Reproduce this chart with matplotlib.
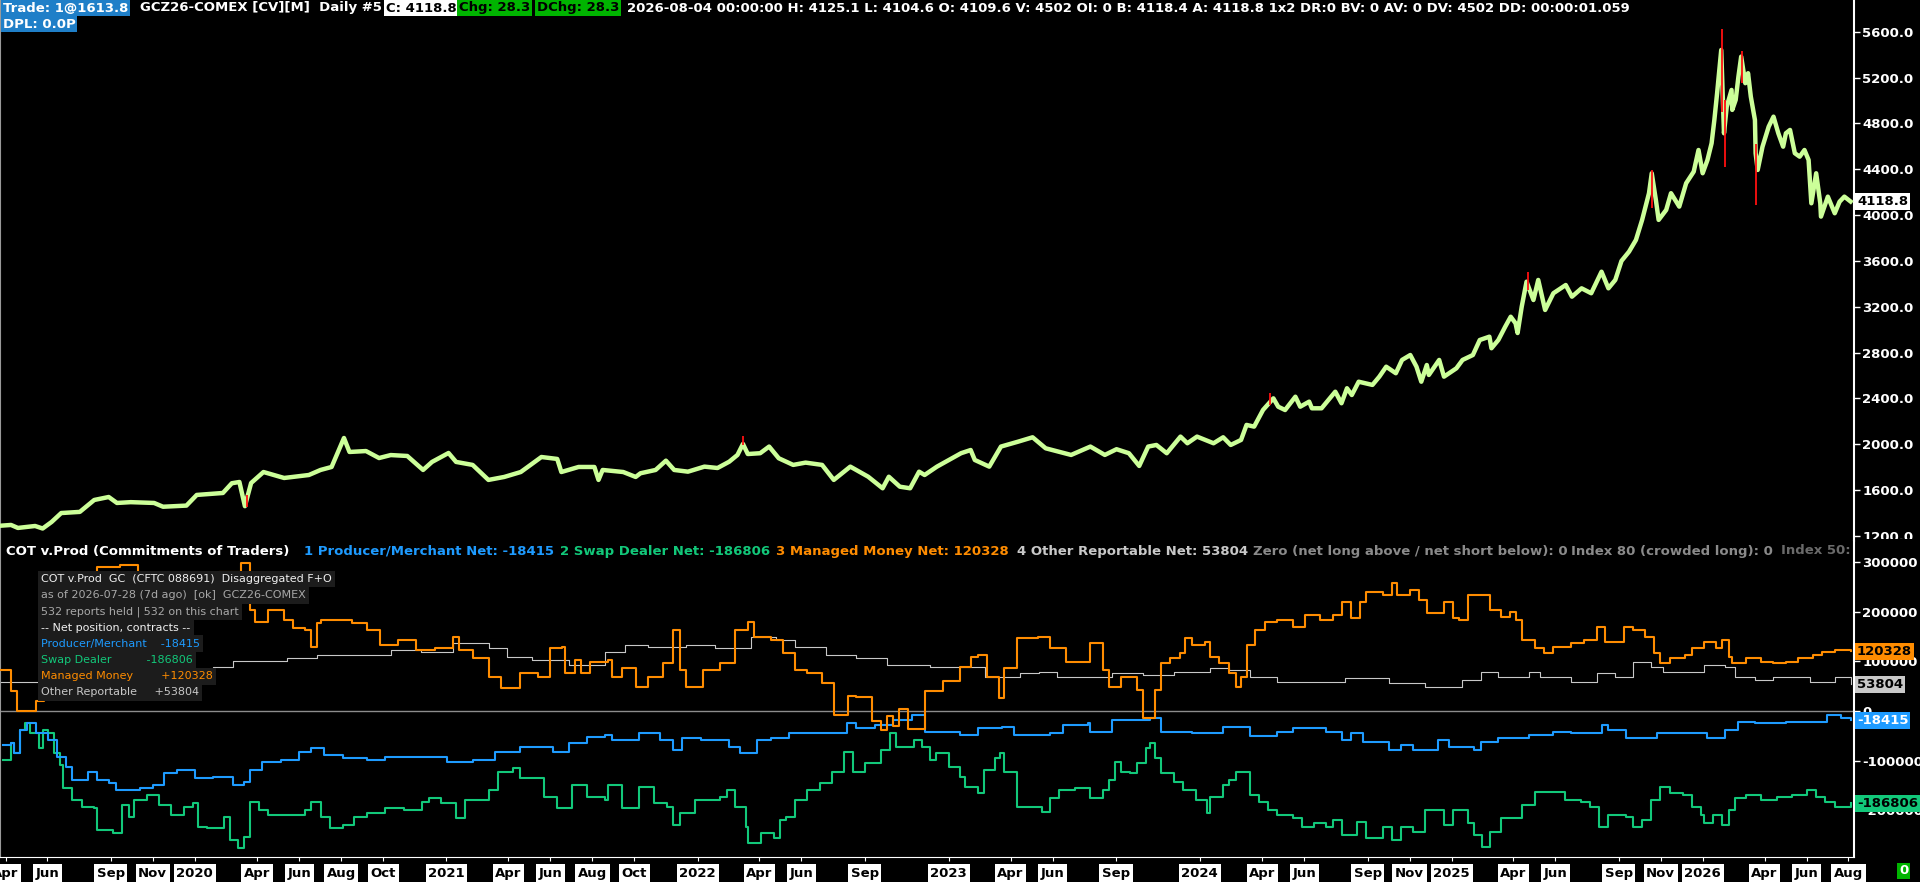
import matplotlib
matplotlib.use("Agg")
import matplotlib.pyplot as plt
import matplotlib.ticker as mticker
import pandas as pd

plt.rcParams['font.family'] = ['DejaVu Sans']
plt.rcParams['font.weight'] = 'bold'

W, H = 1920, 882

# ---- price (GCZ26 daily closes) ----
price_dates = [
    '2019-03-26', '2019-04-09', '2019-04-19', '2019-05-14', '2019-05-25', '2019-06-07', '2019-06-21', '2019-07-18',
    '2019-08-08', '2019-08-29', '2019-09-10', '2019-09-30', '2019-11-03', '2019-11-16', '2019-12-20',
    '2020-01-04', '2020-02-11', '2020-02-24', '2020-03-06', '2020-03-14', '2020-03-23', '2020-04-10', '2020-05-10',
    '2020-06-15', '2020-07-02', '2020-07-18', '2020-08-05', '2020-08-13', '2020-09-06', '2020-09-25', '2020-10-12',
    '2020-11-05', '2020-11-28', '2020-12-11',
    '2021-01-04', '2021-01-15', '2021-02-08', '2021-03-03', '2021-03-26', '2021-04-19', '2021-05-19', '2021-06-11',
    '2021-06-17', '2021-07-12', '2021-08-04', '2021-08-10', '2021-08-16', '2021-09-15', '2021-10-03', '2021-10-10',
    '2021-11-01', '2021-11-16', '2021-11-28', '2021-12-18',
    '2022-01-11', '2022-01-30', '2022-02-16', '2022-02-28', '2022-03-08', '2022-03-15', '2022-04-02', '2022-04-15',
    '2022-04-29', '2022-05-20', '2022-06-07', '2022-07-01', '2022-07-18', '2022-08-11', '2022-09-06', '2022-09-27',
    '2022-10-06', '2022-10-22', '2022-11-06', '2022-11-19', '2022-11-27', '2022-12-15',
    '2023-01-19', '2023-02-02', '2023-02-08', '2023-03-01', '2023-03-18', '2023-04-12', '2023-05-03', '2023-05-22',
    '2023-06-28', '2023-07-26', '2023-08-16', '2023-09-02', '2023-09-20', '2023-10-05', '2023-10-18', '2023-10-30',
    '2023-11-14', '2023-12-04', '2023-12-14', '2023-12-28',
    '2024-01-21', '2024-02-04', '2024-02-15', '2024-03-01', '2024-03-09', '2024-03-20', '2024-04-02', '2024-04-17',
    '2024-04-24', '2024-05-04', '2024-05-19', '2024-05-26', '2024-06-08', '2024-06-12', '2024-06-26', '2024-07-16',
    '2024-07-25', '2024-08-02', '2024-08-09', '2024-08-19', '2024-09-08', '2024-09-18', '2024-09-28', '2024-10-12',
    '2024-10-21', '2024-11-02', '2024-11-11', '2024-11-18', '2024-11-26', '2024-11-29', '2024-12-14', '2024-12-21',
    '2025-01-08', '2025-01-17', '2025-02-01', '2025-02-11', '2025-02-25', '2025-02-28', '2025-03-10', '2025-03-20',
    '2025-03-28', '2025-04-04', '2025-04-07', '2025-04-13', '2025-04-20', '2025-04-30', '2025-05-07', '2025-05-17',
    '2025-05-29', '2025-06-16', '2025-06-25', '2025-07-09', '2025-07-23', '2025-08-07', '2025-08-17', '2025-08-27',
    '2025-09-05', '2025-09-16', '2025-09-26', '2025-10-05', '2025-10-15', '2025-10-19', '2025-10-25', '2025-10-29',
    '2025-11-09', '2025-11-16', '2025-11-28', '2025-12-08', '2025-12-19', '2025-12-26',
    '2026-01-01', '2026-01-08', '2026-01-14', '2026-01-18', '2026-01-22', '2026-01-28', '2026-02-01', '2026-02-05',
    '2026-02-12', '2026-02-13', '2026-02-18', '2026-02-22', '2026-02-26', '2026-03-04', '2026-03-08', '2026-03-12',
    '2026-03-18', '2026-03-19', '2026-03-22', '2026-03-29', '2026-04-07', '2026-04-14', '2026-04-21', '2026-04-28',
    '2026-05-02', '2026-05-08', '2026-05-15', '2026-05-22', '2026-05-29', '2026-06-04', '2026-06-08', '2026-06-15',
    '2026-06-21', '2026-06-22', '2026-07-02', '2026-07-12', '2026-07-19', '2026-07-26', '2026-08-04']
price_close = [
    1290, 1296, 1270, 1287, 1265, 1322, 1400, 1410,
    1514, 1540, 1488, 1495, 1488, 1455, 1465,
    1558, 1575, 1660, 1671, 1460, 1662, 1758, 1706,
    1732, 1776, 1802, 2055, 1933, 1941, 1880, 1906,
    1898, 1776, 1846,
    1924, 1846, 1820, 1689, 1715, 1758, 1889, 1872,
    1758, 1802, 1802, 1689, 1776, 1758, 1715, 1747,
    1776, 1857, 1776, 1761,
    1805, 1793, 1848, 1907, 2003, 1915, 1922, 1980,
    1878, 1820, 1840, 1820, 1689, 1805, 1717, 1616,
    1717, 1630, 1616, 1761, 1732, 1805,
    1922, 1950, 1863, 1805, 1980, 2023, 2061, 1965,
    1907, 1980, 1907, 1957, 1922, 1811, 1980, 1994,
    1922, 2067, 2009, 2067,
    2009, 2061, 1994, 2038, 2169, 2154, 2300, 2401,
    2328, 2299, 2415, 2328, 2372, 2314, 2314, 2459,
    2358, 2489, 2430, 2546, 2518, 2590, 2677, 2620,
    2736, 2779, 2677, 2546, 2692, 2605, 2736, 2590,
    2663, 2736, 2779, 2910, 2939, 2838, 2910, 3026,
    3113, 3056, 2971, 3201, 3419, 3259, 3434, 3172,
    3318, 3390, 3288, 3361, 3318, 3506, 3361, 3434,
    3600, 3681, 3783, 3958, 4191, 4365, 4132, 3958,
    4045, 4191, 4074, 4278, 4379, 4568,
    4365, 4481, 4627, 4830, 5063, 5441, 4714, 4946,
    5092, 4918, 5005, 5208, 5383, 5151, 5238, 5034,
    4830, 4540, 4394, 4597, 4772, 4859, 4714, 4597,
    4714, 4743, 4540, 4510, 4568, 4481, 4103, 4365,
    4103, 3987, 4161, 4016, 4117, 4161, 4118.8]

# down bars with long wicks
wick_dates = ['2020-03-17', '2022-03-08', '2024-04-12', '2025-04-22', '2025-10-20',
              '2026-01-29', '2026-02-02', '2026-02-27', '2026-03-19']
wick_low = [1450, 1990, 2340, 3350, 4060, 4900, 4420, 5150, 4090]
wick_high = [1560, 2075, 2450, 3500, 4390, 5620, 5000, 5430, 4620]

# ---- COT net positions (contracts) ----
prod_dates = [
    '2019-03-29', '2019-04-09', '2019-04-13', '2019-04-22', '2019-05-02', '2019-05-15', '2019-06-02', '2019-06-15', '2019-06-28', '2019-07-06',
    '2019-07-30', '2019-08-12', '2019-08-29', '2019-09-08', '2019-10-14', '2019-11-01', '2019-11-18', '2019-12-07', '2019-12-24', '2020-01-02',
    '2020-01-28', '2020-02-21', '2020-02-25', '2020-03-13', '2020-03-22', '2020-04-08', '2020-05-06', '2020-06-01', '2020-06-18', '2020-07-07',
    '2020-08-03', '2020-09-07', '2020-10-04', '2020-11-17', '2021-01-02', '2021-02-08', '2021-03-12', '2021-04-18', '2021-05-14', '2021-06-05',
    '2021-06-28', '2021-07-24', '2021-08-20', '2021-08-29', '2021-10-08', '2021-11-08', '2021-11-27', '2021-12-10', '2022-01-06', '2022-02-03',
    '2022-02-16', '2022-03-03', '2022-03-16', '2022-03-29', '2022-04-18', '2022-05-14', '2022-06-09', '2022-07-07', '2022-08-06', '2022-08-19',
    '2022-09-16', '2022-10-12', '2022-11-08', '2022-11-23', '2022-11-27', '2023-01-17', '2023-02-12', '2023-03-19', '2023-04-06', '2023-05-29',
    '2023-06-16', '2023-07-22', '2023-07-26', '2023-08-27', '2023-10-10', '2023-10-20', '2023-11-06', '2023-12-21', '2024-02-04', '2024-02-27',
    '2024-03-14', '2024-04-22', '2024-05-15', '2024-07-03', '2024-07-26', '2024-08-08', '2024-08-26', '2024-10-02', '2024-10-19', '2024-11-06',
    '2024-12-12', '2024-12-29', '2025-02-03', '2025-02-13', '2025-03-10', '2025-04-23', '2025-05-28', '2025-06-24', '2025-08-08', '2025-08-17',
    '2025-09-12', '2025-10-18', '2025-10-27', '2025-12-20', '2026-01-07', '2026-02-03', '2026-02-21', '2026-03-18', '2026-05-02', '2026-06-15',
    '2026-07-01', '2026-07-21', '2026-08-04']
prod_net = [
    -69000, -65000, -85000, -38000, -24000, -44000, -59000, -93000, -113000, -139000,
    -123000, -139000, -145000, -160000, -156000, -149000, -125000, -119000, -119000, -135000,
    -133000, -133000, -149000, -143000, -119000, -103000, -99000, -83000, -75000, -89000,
    -95000, -99000, -93000, -93000, -103000, -99000, -83000, -73000, -73000, -83000,
    -65000, -53000, -48000, -59000, -44000, -59000, -79000, -55000, -59000, -59000,
    -73000, -85000, -85000, -59000, -55000, -44000, -44000, -44000, -24000, -34000,
    -28000, -18000, -8000, -8000, -42000, -48000, -34000, -32000, -48000, -44000,
    -28000, -24000, -42000, -18000, -18000, -14000, -42000, -44000, -32000, -32000,
    -51000, -42000, -34000, -42000, -59000, -44000, -63000, -79000, -69000, -79000,
    -59000, -73000, -79000, -63000, -55000, -48000, -42000, -44000, -28000, -38000,
    -55000, -55000, -44000, -44000, -55000, -38000, -22000, -24000, -22000, -22000,
    -8000, -14000, -18415]

swap_dates = [
    '2019-03-29', '2019-04-09', '2019-04-13', '2019-04-22', '2019-04-29', '2019-05-06', '2019-05-19', '2019-05-25', '2019-06-02', '2019-06-10',
    '2019-06-19', '2019-06-23', '2019-07-06', '2019-07-21', '2019-08-08', '2019-08-12', '2019-09-04', '2019-09-17', '2019-09-27', '2019-10-05',
    '2019-10-23', '2019-11-10', '2019-11-27', '2019-12-16', '2019-12-29', '2020-01-06', '2020-01-19', '2020-02-12', '2020-02-21', '2020-03-04',
    '2020-03-13', '2020-03-22', '2020-04-04', '2020-04-17', '2020-05-14', '2020-06-10', '2020-06-18', '2020-07-02', '2020-07-16', '2020-08-03',
    '2020-08-20', '2020-09-07', '2020-10-04', '2020-10-31', '2020-11-27', '2020-12-06', '2020-12-24', '2021-01-15', '2021-01-28', '2021-02-16',
    '2021-03-04', '2021-03-17', '2021-04-07', '2021-04-18', '2021-05-14', '2021-05-23', '2021-06-10', '2021-07-02', '2021-07-24', '2021-08-20',
    '2021-08-24', '2021-09-13', '2021-10-08', '2021-10-30', '2021-11-17', '2021-11-27', '2021-12-06', '2021-12-28', '2022-01-23', '2022-02-03',
    '2022-02-13', '2022-02-24', '2022-03-12', '2022-03-16', '2022-04-03', '2022-04-22', '2022-05-01', '2022-05-09', '2022-05-22', '2022-06-09',
    '2022-06-28', '2022-07-15', '2022-08-02', '2022-08-15', '2022-09-02', '2022-09-25', '2022-10-08', '2022-10-17', '2022-11-12', '2022-11-23',
    '2022-12-05', '2022-12-14', '2023-01-01', '2023-01-17', '2023-01-25', '2023-02-12', '2023-02-21', '2023-03-10', '2023-03-17', '2023-03-23',
    '2023-04-10', '2023-05-02', '2023-05-16', '2023-05-29', '2023-06-11', '2023-07-03', '2023-07-26', '2023-08-13', '2023-08-22', '2023-08-31',
    '2023-09-09', '2023-09-22', '2023-10-02', '2023-10-15', '2023-10-20', '2023-10-28', '2023-11-06', '2023-11-24', '2023-12-08', '2023-12-26',
    '2024-01-12', '2024-01-16', '2024-02-04', '2024-02-12', '2024-02-22', '2024-03-09', '2024-03-14', '2024-03-27', '2024-04-09', '2024-04-22',
    '2024-05-15', '2024-05-28', '2024-06-15', '2024-07-03', '2024-07-13', '2024-07-26', '2024-08-17', '2024-08-30', '2024-09-23', '2024-10-06',
    '2024-10-19', '2024-11-06', '2024-11-23', '2024-12-08', '2024-12-21', '2025-01-03', '2025-01-16', '2025-01-25', '2025-02-03', '2025-02-14',
    '2025-02-26', '2025-03-14', '2025-03-31', '2025-04-13', '2025-05-02', '2025-05-28', '2025-06-15', '2025-07-08', '2025-07-21', '2025-08-03',
    '2025-08-17', '2025-08-29', '2025-09-12', '2025-09-22', '2025-10-05', '2025-10-18', '2025-10-31', '2025-11-14', '2025-12-03', '2025-12-16',
    '2025-12-29', '2026-01-03', '2026-01-16', '2026-01-29', '2026-02-08', '2026-02-17', '2026-03-05', '2026-03-27', '2026-04-19', '2026-05-11',
    '2026-06-02', '2026-06-15', '2026-06-28', '2026-07-12', '2026-08-04']
swap_net = [
    -99000, -65000, -85000, -38000, -24000, -44000, -75000, -38000, -44000, -85000,
    -109000, -156000, -180000, -194000, -196000, -240000, -246000, -190000, -214000, -180000,
    -170000, -190000, -210000, -194000, -186000, -234000, -236000, -214000, -261000, -277000,
    -254000, -184000, -200000, -210000, -210000, -200000, -184000, -214000, -236000, -230000,
    -214000, -206000, -196000, -200000, -184000, -176000, -186000, -216000, -180000, -180000,
    -160000, -123000, -115000, -135000, -135000, -174000, -196000, -149000, -174000, -180000,
    -149000, -196000, -153000, -186000, -194000, -230000, -206000, -180000, -180000, -174000,
    -160000, -194000, -234000, -267000, -246000, -257000, -220000, -214000, -180000, -160000,
    -145000, -123000, -83000, -123000, -105000, -79000, -44000, -73000, -59000, -73000,
    -99000, -85000, -113000, -133000, -153000, -166000, -119000, -95000, -85000, -123000,
    -194000, -194000, -204000, -176000, -160000, -156000, -176000, -160000, -139000, -103000,
    -123000, -125000, -105000, -75000, -65000, -95000, -125000, -143000, -160000, -180000,
    -206000, -174000, -149000, -139000, -123000, -123000, -170000, -184000, -200000, -210000,
    -216000, -234000, -226000, -234000, -220000, -250000, -224000, -257000, -234000, -261000,
    -234000, -244000, -200000, -200000, -230000, -200000, -200000, -226000, -250000, -275000,
    -244000, -216000, -216000, -190000, -164000, -164000, -180000, -184000, -194000, -234000,
    -210000, -210000, -214000, -234000, -220000, -180000, -153000, -166000, -170000, -194000,
    -210000, -226000, -210000, -230000, -200000, -176000, -170000, -180000, -174000, -170000,
    -160000, -174000, -184000, -194000, -186806]

mm_dates = [
    '2019-03-26', '2019-04-09', '2019-04-18', '2019-05-02', '2019-05-15', '2019-05-27', '2019-06-07', '2019-06-18', '2019-07-10', '2019-08-12',
    '2019-09-14', '2019-10-10', '2019-10-27', '2019-11-25', '2019-12-20', '2020-01-08', '2020-02-06', '2020-03-09', '2020-03-22', '2020-03-29',
    '2020-04-17', '2020-05-10', '2020-05-23', '2020-06-10', '2020-06-18', '2020-06-27', '2020-07-02', '2020-08-03', '2020-08-16', '2020-09-07',
    '2020-09-26', '2020-10-22', '2020-11-17', '2020-12-15', '2021-01-10', '2021-01-19', '2021-02-08', '2021-03-04', '2021-03-21', '2021-04-18',
    '2021-05-14', '2021-06-01', '2021-06-18', '2021-06-22', '2021-07-07', '2021-07-15', '2021-07-28', '2021-08-24', '2021-08-29', '2021-09-13',
    '2021-10-04', '2021-10-21', '2021-11-12', '2021-11-27', '2021-12-06', '2021-12-15', '2022-01-09', '2022-02-03', '2022-02-24', '2022-03-16',
    '2022-03-24', '2022-04-18', '2022-05-05', '2022-05-22', '2022-06-09', '2022-07-01', '2022-07-18', '2022-08-07', '2022-08-19', '2022-09-12',
    '2022-09-25', '2022-10-03', '2022-10-12', '2022-10-21', '2022-11-03', '2022-11-27', '2022-12-24', '2023-01-17', '2023-02-03', '2023-02-12',
    '2023-02-26', '2023-03-15', '2023-03-23', '2023-04-10', '2023-05-11', '2023-05-29', '2023-06-20', '2023-07-12', '2023-07-26', '2023-08-13',
    '2023-08-22', '2023-09-09', '2023-09-22', '2023-10-02', '2023-10-10', '2023-10-28', '2023-11-06', '2023-11-19', '2023-12-03', '2023-12-10',
    '2023-12-21', '2024-01-08', '2024-01-16', '2024-01-29', '2024-02-12', '2024-02-22', '2024-03-01', '2024-03-09', '2024-03-22', '2024-04-05',
    '2024-04-22', '2024-05-15', '2024-06-02', '2024-06-24', '2024-07-13', '2024-07-26', '2024-08-08', '2024-08-21', '2024-08-30', '2024-09-23',
    '2024-10-06', '2024-10-14', '2024-11-01', '2024-11-14', '2024-11-27', '2024-12-21', '2025-01-03', '2025-01-12', '2025-01-25', '2025-02-17',
    '2025-02-26', '2025-03-14', '2025-03-27', '2025-04-04', '2025-04-13', '2025-05-02', '2025-05-15', '2025-05-28', '2025-06-24', '2025-07-13',
    '2025-07-31', '2025-08-12', '2025-09-08', '2025-09-22', '2025-10-09', '2025-10-22', '2025-10-31', '2025-11-14', '2025-12-07', '2025-12-16',
    '2026-01-03', '2026-01-20', '2026-01-29', '2026-02-08', '2026-02-13', '2026-03-05', '2026-03-27', '2026-04-13', '2026-05-02', '2026-05-20',
    '2026-06-10', '2026-06-23', '2026-07-12', '2026-08-04']
mm_net = [
    83000, 40000, 0, 0, 20000, 60000, 170000, 230000, 250000, 290000,
    295000, 240000, 225000, 220000, 230000, 260000, 280000, 299000, 204000, 180000,
    204000, 184000, 168000, 164000, 129000, 178000, 184000, 184000, 178000, 164000,
    133000, 143000, 123000, 127000, 149000, 123000, 107000, 69000, 46000, 77000,
    69000, 127000, 129000, 77000, 103000, 77000, 99000, 103000, 69000, 87000,
    48000, 69000, 97000, 164000, 83000, 48000, 83000, 97000, 164000, 180000,
    149000, 143000, 117000, 83000, 77000, 57000, -8000, 30000, 28000, -20000,
    -38000, -10000, -30000, 5000, -36000, 40000, 60000, 89000, 109000, 113000,
    69000, 26000, 87000, 147000, 149000, 127000, 99000, 99000, 137000, 83000,
    48000, 69000, 69000, 42000, -14000, 42000, 97000, 107000, 117000, 147000,
    133000, 139000, 109000, 97000, 77000, 48000, 69000, 133000, 164000, 180000,
    184000, 170000, 194000, 184000, 194000, 220000, 188000, 220000, 240000, 234000,
    258000, 234000, 244000, 224000, 198000, 220000, 188000, 184000, 234000, 234000,
    204000, 190000, 200000, 184000, 143000, 127000, 117000, 129000, 137000, 143000,
    170000, 139000, 170000, 164000, 149000, 117000, 97000, 107000, 113000, 127000,
    139000, 127000, 143000, 109000, 97000, 107000, 99000, 97000, 99000, 107000,
    113000, 119000, 123000, 120328]

other_dates = [
    '2019-03-26', '2019-05-15', '2019-08-15', '2020-01-08', '2020-01-28', '2020-02-25', '2020-04-08', '2020-05-14', '2020-06-27', '2020-08-20',
    '2020-10-13', '2020-11-25', '2021-01-10', '2021-02-16', '2021-03-04', '2021-03-30', '2021-05-05', '2021-06-28', '2021-08-20', '2021-09-17',
    '2021-10-21', '2021-12-15', '2022-01-27', '2022-03-20', '2022-04-25', '2022-05-22', '2022-07-07', '2022-08-19', '2022-10-03', '2022-12-05',
    '2023-01-17', '2023-02-23', '2023-04-14', '2023-05-12', '2023-06-07', '2023-08-27', '2023-10-10', '2023-11-24', '2024-01-16', '2024-02-12',
    '2024-03-14', '2024-04-22', '2024-06-15', '2024-07-30', '2024-10-02', '2024-11-23', '2025-01-16', '2025-02-13', '2025-03-10', '2025-04-09',
    '2025-04-24', '2025-05-10', '2025-06-24', '2025-07-31', '2025-08-26', '2025-09-22', '2025-10-18', '2025-11-05', '2026-01-03', '2026-02-03',
    '2026-02-17', '2026-03-18', '2026-04-13', '2026-06-06', '2026-07-12', '2026-08-04']
other_net = [
    59000, 59000, 70000, 83000, 89000, 100000, 100000, 107000, 113000, 113000,
    123000, 119000, 137000, 137000, 127000, 109000, 103000, 93000, 119000, 133000,
    129000, 133000, 127000, 149000, 143000, 129000, 113000, 107000, 93000, 89000,
    89000, 69000, 77000, 79000, 69000, 77000, 73000, 79000, 87000, 83000,
    69000, 59000, 59000, 67000, 57000, 48000, 63000, 79000, 69000, 69000,
    79000, 69000, 59000, 77000, 69000, 99000, 89000, 79000, 93000, 89000,
    69000, 63000, 69000, 59000, 69000, 53804]

# ---- bottom time scale labels ----
xlab_dates = ['2019-04-01', '2019-06-01', '2019-09-01', '2019-11-01', '2020-01-01', '2020-04-01', '2020-06-01',
              '2020-08-01', '2020-10-01', '2021-01-01', '2021-04-01', '2021-06-01', '2021-08-01', '2021-10-01',
              '2022-01-01', '2022-04-01', '2022-06-01', '2022-09-01', '2023-01-01', '2023-04-01', '2023-06-01',
              '2023-09-01', '2024-01-01', '2024-04-01', '2024-06-01', '2024-09-01', '2024-11-01', '2025-01-01',
              '2025-04-01', '2025-06-01', '2025-09-01', '2025-11-01', '2026-01-01', '2026-04-01', '2026-06-01',
              '2026-08-01']
xlab_text = ['Apr', 'Jun', 'Sep', 'Nov', '2020', 'Apr', 'Jun', 'Aug', 'Oct', '2021', 'Apr', 'Jun', 'Aug', 'Oct',
             '2022', 'Apr', 'Jun', 'Sep', '2023', 'Apr', 'Jun', 'Sep', '2024', 'Apr', 'Jun', 'Sep', 'Nov', '2025',
             'Apr', 'Jun', 'Sep', 'Nov', '2026', 'Apr', 'Jun', 'Aug']

C_PROD = '#1e9bff'
C_SWAP = '#12c87a'
C_MM = '#ff8c00'
C_OTHER = '#c8c8c8'


def d(lst):
    return pd.to_datetime(lst)


def fx(x):
    return x / W


def fy(y):
    return 1 - y / H


fig = plt.figure(figsize=(W / 100, H / 100), dpi=100, facecolor='black')
ax1 = fig.add_axes([0, fy(541), fx(1854), 541 / H])
ax2 = fig.add_axes([0, fy(857), fx(1854), (857 - 541) / H])
x_left, x_right = pd.Timestamp('2019-03-24'), pd.Timestamp('2026-08-09')

for ax in (ax1, ax2):
    ax.set_facecolor('black')
    ax.set_xlim(x_left, x_right)
    ax.yaxis.tick_right()
    ax.tick_params(axis='y', colors='white', labelcolor='white', length=4, width=1, pad=2, labelsize=9.5)
    ax.spines['top'].set_visible(False)
    ax.spines['left'].set_color('#9a9a9a')
    ax.spines['right'].set_color('white')
    ax.spines['right'].set_linewidth(1.5)
ax1.spines['bottom'].set_visible(False)
ax1.tick_params(axis='x', bottom=False, labelbottom=False)
ax2.spines['bottom'].set_color('white')

# price panel
ax1.set_ylim(1156, 5877)
ax1.yaxis.set_major_locator(mticker.MultipleLocator(400))
ax1.yaxis.set_major_formatter(mticker.FormatStrFormatter('%.1f'))
ax1.plot(d(price_dates), price_close, color='#ccff99', lw=3.2, zorder=3)
ax1.vlines(d(wick_dates), wick_low, wick_high, color='#ff1010', lw=1.3, zorder=4)

# COT panel
ax2.set_ylim(-294900, 343400)
ax2.set_yticks([-200000, -100000, 0, 100000, 200000, 300000])
ax2.yaxis.set_major_formatter(mticker.FuncFormatter(lambda v, p: f'{v:.0f}'))
ax2.axhline(0, color='#8c8c8c', lw=1, zorder=1)
ax2.plot(d(other_dates), other_net, drawstyle='steps-post', color=C_OTHER, lw=0.8, zorder=2)
ax2.plot(d(swap_dates), swap_net, drawstyle='steps-post', color=C_SWAP, lw=1.5, zorder=3)
ax2.plot(d(prod_dates), prod_net, drawstyle='steps-post', color=C_PROD, lw=1.5, zorder=3)
ax2.plot(d(mm_dates), mm_net, drawstyle='steps-post', color=C_MM, lw=1.5, zorder=4)

ax2.set_xticks(d(xlab_dates))
ax2.set_xticklabels(xlab_text)
ax2.tick_params(axis='x', colors='white', labelcolor='black', length=3, pad=4, labelsize=9.5)
for lab in ax2.get_xticklabels():
    lab.set_bbox(dict(boxstyle='square,pad=0.2', fc='white', ec='none'))


def tag(ax, val, s, bg, fg):
    ax.annotate(s, xy=(1, val), xycoords=('axes fraction', 'data'), xytext=(3, 0),
                textcoords='offset pixels', va='center', ha='left', color=fg, fontsize=9.5,
                bbox=dict(boxstyle='square,pad=0.15', fc=bg, ec='none'), annotation_clip=False, zorder=10)


tag(ax1, price_close[-1], f'{price_close[-1]:.1f}', 'white', 'black')
tag(ax2, mm_net[-1], f'{mm_net[-1]}', C_MM, 'black')
tag(ax2, other_net[-1], f'{other_net[-1]}', C_OTHER, 'black')
tag(ax2, prod_net[-1], f'{prod_net[-1]}', C_PROD, 'white')
tag(ax2, swap_net[-1], f'{swap_net[-1]}', C_SWAP, 'black')

# cover the lower half of the 1200.0 label like the panel border does
fig.patches.append(plt.Rectangle((fx(1856), fy(548)), fx(64), 9 / H, transform=fig.transFigure,
                                 fc='black', ec='none', zorder=5))


def label(x, y, s, fg, bg=None, size=9.5, weight='bold', ax=None):
    kw = {}
    if bg:
        kw['bbox'] = dict(boxstyle='square,pad=0.12', fc=bg, ec='none')
    if ax is None:
        return fig.text(fx(x), fy(y), s, color=fg, fontsize=size, fontweight=weight,
                        va='center', ha='left', zorder=8, **kw)
    return ax.text(fx(x), fy(y), s, color=fg, fontsize=size, fontweight=weight, va='center', ha='left',
                   transform=fig.transFigure, clip_on=True, zorder=8, **kw)


# status line
label(3, 8, 'Trade: 1@1613.8', 'white', '#1f7fc8')
label(140, 8, 'GCZ26-COMEX [CV][M]  Daily #5', 'white')
label(386, 8, 'C: 4118.8', 'black', 'white')
label(459, 8, 'Chg: 28.3', 'black', '#00b400')
label(537, 8, 'DChg: 28.3', 'black', '#00b400')
label(627, 8, '2026-08-04 00:00:00 H: 4125.1 L: 4104.6 O: 4109.6 V: 4502 OI: 0 B: 4118.4 A: 4118.8 '
              '1x2 DR:0 BV: 0 AV: 0 DV: 4502 DD: 00:00:01.059', 'white')
label(3, 24, 'DPL: 0.0P', 'white', '#1f7fc8')

# indicator title line
label(6, 551, 'COT v.Prod (Commitments of Traders)', 'white', ax=ax2)
label(304, 551, f'1 Producer/Merchant Net: {prod_net[-1]}', C_PROD, ax=ax2)
label(560, 551, f'2 Swap Dealer Net: {swap_net[-1]}', C_SWAP, ax=ax2)
label(776, 551, f'3 Managed Money Net: {mm_net[-1]}', C_MM, ax=ax2)
label(1017, 551, f'4 Other Reportable Net: {other_net[-1]}', C_OTHER, ax=ax2)
label(1253, 551, 'Zero (net long above / net short below): 0', '#8a8a8a', ax=ax2)
label(1571, 551, 'Index 80 (crowded long): 0', '#8a8a8a', ax=ax2)
label(1781, 551, 'Index 50:', '#6a6a6a', ax=ax2)

# info box
info_rows = [
    ('COT v.Prod  GC  (CFTC 088691)  Disaggregated F+O', '#f0f0f0'),
    ('as of 2026-07-28 (7d ago)  [ok]  GCZ26-COMEX', '#a8a8a8'),
    ('532 reports held | 532 on this chart', '#a8a8a8'),
    ('-- Net position, contracts --', '#f0f0f0'),
    (f'Producer/Merchant    {prod_net[-1]}', C_PROD),
    (f'Swap Dealer          {swap_net[-1]}', C_SWAP),
    (f'Managed Money        +{mm_net[-1]}', C_MM),
    (f'Other Reportable     +{other_net[-1]}', C_OTHER),
]
for i, (txt, col) in enumerate(info_rows):
    t = fig.text(fx(41), fy(579 + i * 16.2), txt, color=col, fontsize=8, fontweight='normal',
                 va='center', ha='left', zorder=9)
    t.set_bbox(dict(boxstyle='square,pad=0.3', fc='#1c1c1c', ec='none'))

# bar counter box at the bottom right
label(1899, 871, '0', 'white', '#00b400')

fig.savefig('out.png', dpi=100, facecolor='black')
